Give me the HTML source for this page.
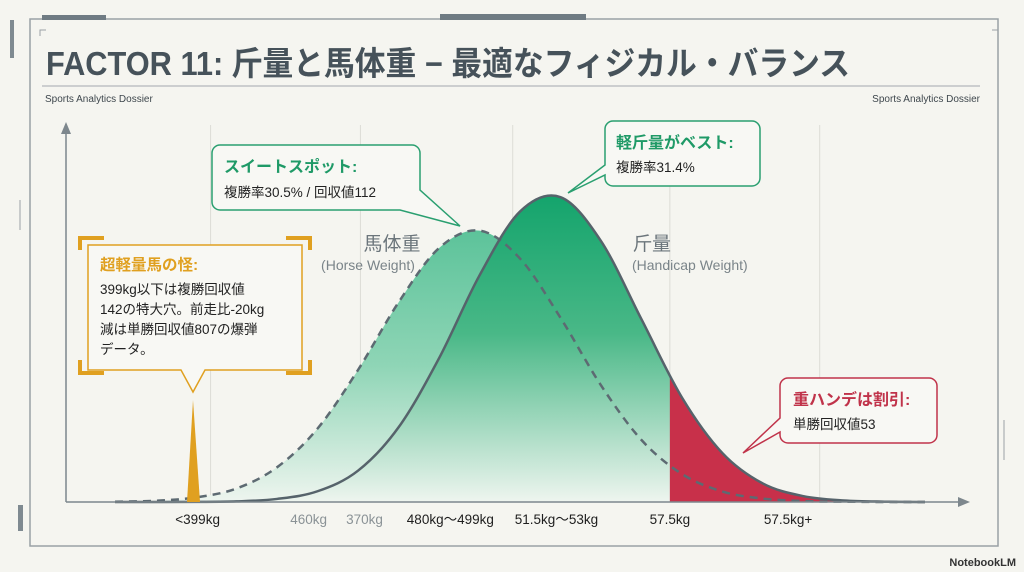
<!DOCTYPE html>
<html><head><meta charset="utf-8">
<style>
body{margin:0;background:#f5f5f0;}
svg{display:block;font-family:"Liberation Sans","Noto Sans CJK JP",sans-serif;}
</style></head>
<body>
<svg id="chart" width="1024" height="572" viewBox="0 0 1024 572">
<defs>
<linearGradient id="gH" x1="0" y1="0" x2="0" y2="1"><stop offset="0" stop-color="#5cc39a"/><stop offset="0.5" stop-color="#8fd5b6"/><stop offset="1" stop-color="#eef5ef"/></linearGradient>
<linearGradient id="gK" x1="0" y1="0" x2="0" y2="1"><stop offset="0" stop-color="#14a46c"/><stop offset="0.45" stop-color="#49b887"/><stop offset="1" stop-color="#eef5ef"/></linearGradient>
</defs>
<rect width="1024" height="572" fill="#f5f5f0"/>
<g fill="none" stroke="#9aa1a6">
<rect x="30" y="19" width="968" height="527" stroke-width="1.5"/>
<path d="M20 200V230M1004 420V460" stroke-width="1"/>
<path d="M40 36V30H46M992 30H998V36" stroke-width="1"/>
</g>
<rect x="42" y="15" width="64" height="5" fill="#6f7b83"/>
<rect x="440" y="14" width="146" height="6" fill="#6f7b83"/>
<rect x="10" y="20" width="4" height="38" fill="#7f8a91"/>
<rect x="18" y="505" width="5" height="26" fill="#7f8a91"/>
<text x="46" y="75" font-size="33" font-weight="bold" fill="#46525a" textLength="804" lengthAdjust="spacingAndGlyphs">FACTOR 11: 斤量と馬体重 − 最適なフィジカル・バランス</text>
<line x1="42" y1="86" x2="980" y2="86" stroke="#b3b8bb" stroke-width="1.2"/>
<text x="45" y="102" font-size="10" fill="#3e474d">Sports Analytics Dossier</text>
<text x="980" y="102" font-size="10" fill="#3e474d" text-anchor="end">Sports Analytics Dossier</text>
<g id="grid" stroke="#dcdcd6" stroke-width="1"></g>
<g id="plot"></g>
<g stroke="#7d878d" stroke-width="1.5" fill="#7d878d">
<line x1="66" y1="502" x2="962" y2="502"/>
<path d="M970 502L958 497V507Z" stroke="none"/>
<line x1="66" y1="502" x2="66" y2="130"/>
<path d="M66 122L61 134H71Z" stroke="none"/>
</g>
<g id="xlabels" font-size="13.5" text-anchor="middle"></g>
<text x="392" y="250" font-size="19" fill="#6b757b" text-anchor="middle">馬体重</text>
<text x="368" y="270" font-size="14" fill="#7a8489" text-anchor="middle">(Horse Weight)</text>
<text x="633" y="250" font-size="19" fill="#6b757b">斤量</text>
<text x="632" y="270" font-size="14" fill="#7a8489">(Handicap Weight)</text>

<g>
<path d="M220 145H412a8 8 0 0 1 8 8V190L460 226L400 210H220a8 8 0 0 1-8-8V153a8 8 0 0 1 8-8Z" fill="#f8f8f4" stroke="#2a9f70" stroke-width="1.5"/>
<text x="224" y="172" font-size="16" font-weight="bold" fill="#1f9a67">スイートスポット:</text>
<text x="224" y="197" font-size="13.5" fill="#222">複勝率30.5% / 回収値112</text>
</g>
<g>
<path d="M613 121H752a8 8 0 0 1 8 8V178a8 8 0 0 1-8 8H613a8 8 0 0 1-8-8V175L568 193L605 165V129a8 8 0 0 1 8-8Z" fill="#f8f8f4" stroke="#2a9f70" stroke-width="1.5"/>
<text x="616" y="148" font-size="16" font-weight="bold" fill="#1f9a67">軽斤量がベスト:</text>
<text x="616" y="172" font-size="13.5" fill="#222">複勝率31.4%</text>
</g>
<g>
<path d="M788 378H929a8 8 0 0 1 8 8V435a8 8 0 0 1-8 8H788a8 8 0 0 1-8-8V432L743 453L780 418V386a8 8 0 0 1 8-8Z" fill="#f8f8f4" stroke="#c0334a" stroke-width="1.5"/>
<text x="793" y="405" font-size="16" font-weight="bold" fill="#c0334a">重ハンデは割引:</text>
<text x="793" y="429" font-size="13.5" fill="#222">単勝回収値53</text>
</g>
<g>
<path d="M88 245H302V370H205L193 392L181 370H88Z" fill="#f8f8f4" stroke="#e0a020" stroke-width="1.5"/>
<path d="M80 250V238H104M286 238H310V250M80 360V373H104M286 373H310V360" fill="none" stroke="#e0a020" stroke-width="4"/>
<text x="100" y="270" font-size="15.5" font-weight="bold" fill="#e0a020">超軽量馬の怪:</text>
<text x="100" y="294" font-size="13.5" fill="#222">399kg以下は複勝回収値</text>
<text x="100" y="314" font-size="13.5" fill="#222">142の特大穴。前走比-20kg</text>
<text x="100" y="334" font-size="13.5" fill="#222">減は単勝回収値807の爆弾</text>
<text x="100" y="354" font-size="13.5" fill="#222">データ。</text>
</g>
<path d="M193 400L187 502H200Z" fill="#e0a020"/>
<text x="1016" y="566" font-size="11" fill="#333" text-anchor="end" font-weight="bold">NotebookLM</text>
</svg>
<script>
const xSamples=[0,5,10,15,20,25,30,35,40,45,50,55,60,65,70,75,80,85,90,95,100];
const handicapDensity=[0,0,0.04,0.2,1.0,3.5,10.2,24.3,46.8,73.8,94.6,99.3,85,59.5,34,15.9,6.0,1.9,0.5,0.1,0];
const horseDensity=[0.1,0.4,1.5,4.4,11.3,23.9,43,65,82.7,88.4,79.3,60,38,20.2,9.1,3.4,1.1,0.3,0.1,0,0];
const redStart=68.5;
const gridPositions=[11.8,30.3,49.1,68.5,87];
const tickLabels=["<399kg","460kg","370kg","480kg〜499kg","51.5kg〜53kg","57.5kg","57.5kg+"];
const tickPos=[10.2,23.9,30.8,41.4,54.5,68.5,83.1];
const tickGray=[false,true,true,false,false,false,false];

const NS="http://www.w3.org/2000/svg";
const xs=v=>115+v*8.1;
const ys=v=>502-v*3.07;
function pts(arr){return xSamples.map((x,i)=>[xs(x),ys(arr[i])]);}
function smooth(p){let d=`M${p[0][0]},${p[0][1]}`;for(let i=0;i<p.length-1;i++){const p0=p[i-1]||p[i],p1=p[i],p2=p[i+1],p3=p[i+2]||p2;d+=`C${p1[0]+(p2[0]-p0[0])/6},${p1[1]+(p2[1]-p0[1])/6} ${p2[0]-(p3[0]-p1[0])/6},${p2[1]-(p3[1]-p1[1])/6} ${p2[0]},${p2[1]}`;}return d;}
function mk(tag,attrs,parent){const e=document.createElementNS(NS,tag);for(const k in attrs)e.setAttribute(k,attrs[k]);parent.appendChild(e);return e;}
const grid=document.getElementById('grid');
gridPositions.forEach(g=>{const l=mk('line',{x1:xs(g),x2:xs(g),y1:125,y2:502},grid);

});
const plot=document.getElementById('plot');
const hp=pts(horseDensity),kp=pts(handicapDensity);
const hd=smooth(hp),kd=smooth(kp);
const last=p=>p[p.length-1][0];
const hf=mk('path',{d:hd+`L${last(hp)},502L${hp[0][0]},502Z`,fill:'url(#gH)'},plot);


const kf=mk('path',{d:kd+`L${last(kp)},502L${kp[0][0]},502Z`,fill:'url(#gK)'},plot);


const cp=mk('clipPath',{id:'redclip'},plot);
mk('rect',{x:xs(redStart),y:100,width:500,height:402},cp);
const rf=mk('path',{d:kd+`L${last(kp)},502L${kp[0][0]},502Z`,fill:'#c8304a','clip-path':'url(#redclip)'},plot);


const hl=mk('path',{d:hd,fill:'none',stroke:'#5d6a72','stroke-width':2.5,'stroke-dasharray':'8 6'},plot);


const kl=mk('path',{d:kd,fill:'none',stroke:'#56636b','stroke-width':2.5},plot);


const xl=document.getElementById('xlabels');
tickLabels.forEach((t,i)=>{const e=mk('text',{x:xs(tickPos[i]),y:524,fill:tickGray[i]?'#8a9296':'#1e1e1e'},xl);e.textContent=t;

});
</script>
</body></html>
